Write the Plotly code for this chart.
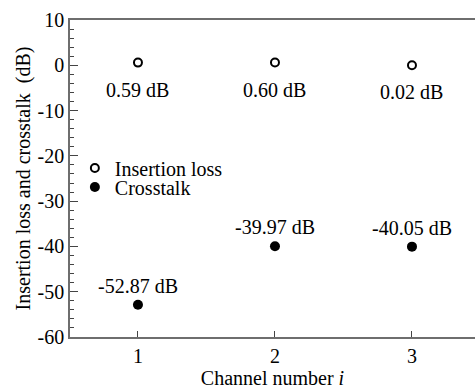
import plotly.graph_objects as go

channels = [1, 2, 3]
insertion_loss = [0.59, 0.60, 0.02]
crosstalk = [-52.87, -39.97, -40.05]
y_ticks = [10, 0, -10, -20, -30, -40, -50, -60]

FONT = "Liberation Serif"
AXC = "#6e6e6e"

fig = go.Figure()
fig.add_trace(go.Scatter(
    x=channels, y=insertion_loss, mode="markers", name="Insertion loss",
    marker=dict(symbol="circle-open", size=8, color="black", line=dict(width=2, color="black")),
    legend="legend",
))
fig.add_trace(go.Scatter(
    x=channels, y=crosstalk, mode="markers", name="Crosstalk",
    marker=dict(symbol="circle", size=10, color="black"),
    legend="legend2",
))

for x, v in zip(channels, insertion_loss):
    fig.add_annotation(x=x, y=v, text=f"{v:.2f} dB", showarrow=False, yshift=-27,
                       font=dict(family=FONT, size=20, color="black"))
for x, v in zip(channels, crosstalk):
    fig.add_annotation(x=x, y=v, text=f"{v:.2f} dB", showarrow=False, yshift=19,
                       font=dict(family=FONT, size=20, color="black"))

leg_common = dict(font=dict(family=FONT, size=20, color="black"), bgcolor="rgba(0,0,0,0)",
                  xanchor="left", yanchor="middle", itemwidth=30, tracegroupgap=0)

fig.update_layout(
    width=475, height=390,
    margin=dict(l=70, r=0, t=20, b=53),
    paper_bgcolor="white", plot_bgcolor="white",
    font=dict(family=FONT, size=20, color="black"),
    showlegend=True,
    legend=dict(x=0.012, y=0.533, **leg_common),
    legend2=dict(x=0.012, y=0.473, **leg_common),
    xaxis=dict(
        range=[0.504, 3.46], tickvals=channels, ticktext=[str(c) for c in channels],
        ticks="inside", ticklen=6, tickwidth=1.2, tickcolor="#444",
        showline=True, linecolor=AXC, linewidth=1.5, mirror=True,
        showgrid=False, zeroline=False,
        title=dict(text="Channel number <i>i</i>", font=dict(family=FONT, size=20), standoff=4),
        tickfont=dict(family=FONT, size=20),
    ),
    yaxis=dict(
        range=[-60, 10], tickvals=y_ticks, ticktext=[str(t) for t in y_ticks],
        ticks="inside", ticklen=8, tickwidth=1.2, tickcolor="#444",
        minor=dict(dtick=2, ticks="inside", ticklen=4, tickwidth=1, tickcolor="#444"),
        showline=True, linecolor=AXC, linewidth=1.5, mirror=False,
        showgrid=False, zeroline=False,
        title=dict(text="Insertion loss and crosstalk  (dB)", font=dict(family=FONT, size=20), standoff=2),
        tickfont=dict(family=FONT, size=20),
    ),
)

fig.write_html("out.html")
